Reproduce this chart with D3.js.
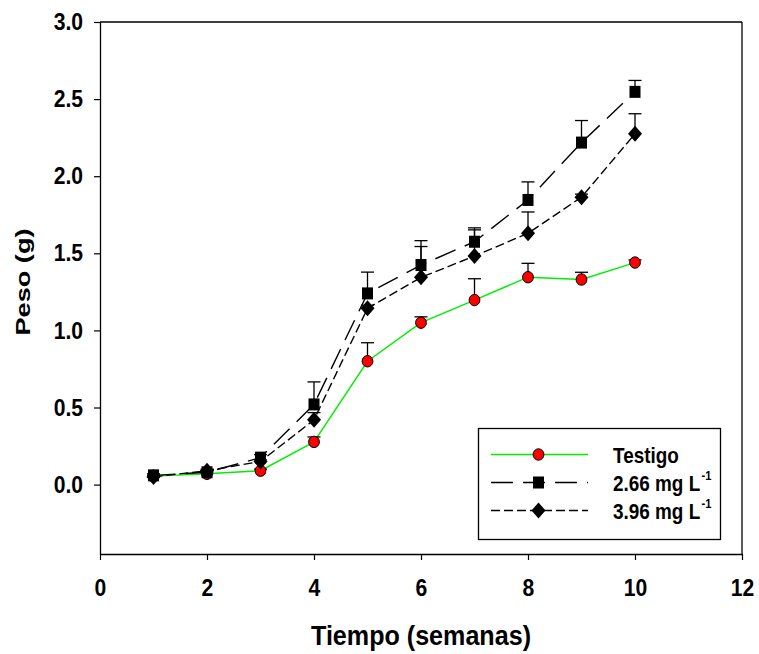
<!DOCTYPE html>
<html>
<head>
<meta charset="utf-8">
<script src="https://cdn.jsdelivr.net/npm/d3@7"></script>
<style>
  body { margin: 0; background: #fff; }
  text { font-family: "Liberation Sans", Arial, sans-serif; font-weight: bold; fill: #000; }
</style>
</head>
<body>
<div id="chart"></div>
<script>
// data (weeks 1..10)
var weeks = [1, 2, 3, 4, 5, 6, 7, 8, 9, 10];
var testigo    = [0.055, 0.07, 0.09, 0.277, 0.80, 1.05, 1.197, 1.345, 1.33, 1.44];
var testigoErr = [0.005, 0.005, 0.01, 0.032, 0.12, 0.038, 0.138, 0.09, 0.047, 0.017];
var dose266    = [0.06, 0.08, 0.175, 0.52, 1.24, 1.424, 1.575, 1.846, 2.218, 2.547];
var dose266Err = [0.01, 0.01, 0.02, 0.146, 0.138, 0.158, 0.09, 0.117, 0.143, 0.074];
var dose396    = [0.05, 0.09, 0.15, 0.42, 1.143, 1.344, 1.482, 1.63, 1.864, 2.275];
var dose396Err = [0.01, 0.01, 0.01, 0.047, 0.02, 0.2, 0.17, 0.138, 0.02, 0.13];

var xTicks = [0, 2, 4, 6, 8, 10, 12];
var yTicks = [0, 0.5, 1.0, 1.5, 2.0, 2.5, 3.0];
var legendLabels = ["Testigo", "2.66 mg L", "3.96 mg L"];

var W = 759, H = 654;
var margin = {top: 22, right: 17, bottom: 100, left: 100},
    width = W - margin.left - margin.right,
    height = H - margin.top - margin.bottom;

var svg = d3.select("#chart")
  .append("svg")
    .attr("width", W)
    .attr("height", H);

var g = svg.append("g")
    .attr("transform", "translate(" + margin.left + "," + margin.top + ")");

var x = d3.scaleLinear().domain([0, 12]).range([0, width]);
var y = d3.scaleLinear().domain([-0.45, 3.0]).range([height, 0]);

// squeeze text horizontally like the original
function squeeze(sel, f) {
  sel.each(function() {
    var len = this.getComputedTextLength();
    d3.select(this).attr("textLength", len * f).attr("lengthAdjust", "spacingAndGlyphs");
  });
}

// axes
var xAxis = g.append("g")
  .attr("transform", "translate(0," + height + ")")
  .call(d3.axisBottom(x).tickValues(xTicks).tickSize(6).tickSizeOuter(0).tickPadding(19).tickFormat(d3.format("d")));
var yAxis = g.append("g")
  .call(d3.axisLeft(y).tickValues(yTicks).tickSize(6).tickSizeOuter(0).tickPadding(11).tickFormat(d3.format(".1f")));

[xAxis, yAxis].forEach(function(a) {
  a.attr("font-size", null).attr("font-family", null);
  a.select(".domain").attr("stroke", "#000").attr("stroke-width", 1.3);
  a.selectAll(".tick line").attr("stroke", "#000").attr("stroke-width", 1.2);
  a.selectAll(".tick text")
    .style("font-size", "24px")
    .attr("fill", "#000");
  squeeze(a.selectAll(".tick text"), 0.88);
});

// frame top + right
g.append("line").attr("x1", 0).attr("x2", width).attr("y1", 0).attr("y2", 0)
  .attr("stroke", "#000").attr("stroke-width", 1.3);
g.append("line").attr("x1", width).attr("x2", width).attr("y1", 0).attr("y2", height)
  .attr("stroke", "#000").attr("stroke-width", 1.3);

// series
var series = [
  {vals: testigo, err: testigoErr, color: "#00ee00", dash: null, shape: "circle"},
  {vals: dose266, err: dose266Err, color: "#000", dash: "22,10", shape: "square"},
  {vals: dose396, err: dose396Err, color: "#000", dash: "9,4", shape: "diamond"}
];

function marker(sel, shape) {
  if (shape == "circle") {
    sel.append("ellipse").attr("rx", 5.4).attr("ry", 5.7)
      .attr("fill", "#ff0000").attr("stroke", "#000").attr("stroke-width", 1);
  } else if (shape == "square") {
    sel.append("rect").attr("x", -5.5).attr("y", -6).attr("width", 11).attr("height", 12)
      .attr("fill", "#000");
  } else {
    sel.append("path").attr("d", "M0,-8L7,0L0,8L-7,0Z").attr("fill", "#000");
  }
}

var line = d3.line()
  .x(function(d) { return x(d[0]) })
  .y(function(d) { return y(d[1]) });

series.forEach(function(s) {
  var pts = weeks.map(function(w, i) { return [w, s.vals[i], s.err[i]]; });

  g.append("path")
    .datum(pts)
    .attr("fill", "none")
    .attr("stroke", s.color)
    .attr("stroke-width", 1.4)
    .attr("stroke-dasharray", s.dash)
    .attr("d", line);

  // upper error bars
  var eb = g.append("g").attr("stroke", "#000").attr("stroke-width", 1.3);
  pts.forEach(function(p) {
    var x0 = x(p[0]), yv = y(p[1]), yt = y(p[1] + p[2]);
    eb.append("line").attr("x1", x0).attr("x2", x0).attr("y1", yv).attr("y2", yt);
    eb.append("line").attr("x1", x0 - 6.5).attr("x2", x0 + 6.5).attr("y1", yt).attr("y2", yt);
  });
});

// markers on top
series.forEach(function(s) {
  weeks.forEach(function(w, i) {
    var m = g.append("g").attr("transform", "translate(" + x(w) + "," + y(s.vals[i]) + ")");
    marker(m, s.shape);
  });
});

// legend
var lg = svg.append("g");
lg.append("rect")
  .attr("x", 478.5).attr("y", 428.5).attr("width", 242).attr("height", 111)
  .attr("fill", "#fff").attr("stroke", "#000").attr("stroke-width", 1.3);

var rowY = [454.5, 482.5, 510.5];
series.forEach(function(s, i) {
  lg.append("line")
    .attr("x1", 491).attr("x2", 588).attr("y1", rowY[i]).attr("y2", rowY[i])
    .attr("stroke", s.color).attr("stroke-width", 1.4)
    .attr("stroke-dasharray", s.dash);
  var m = lg.append("g").attr("transform", "translate(538.5," + rowY[i] + ")");
  marker(m, s.shape);

  // scaled group instead of textLength so the boxes stay honest
  var tg = lg.append("g")
    .attr("transform", "translate(613," + (rowY[i] + 8) + ") scale(0.86,1)");
  var t = tg.append("text")
    .attr("x", 0).attr("y", 0)
    .style("font-size", "22px")
    .text(legendLabels[i]);
  if (i > 0) {
    var end = t.node().getComputedTextLength();
    tg.append("text")
      .attr("x", end + 1.5).attr("y", -11)
      .style("font-size", "13px")
      .text("-1");
  }
});

// axis titles
svg.append("text")
  .attr("x", margin.left + width / 2).attr("y", 645)
  .attr("text-anchor", "middle")
  .style("font-size", "28px")
  .attr("textLength", 220).attr("lengthAdjust", "spacingAndGlyphs")
  .text("Tiempo (semanas)");

svg.append("text")
  .attr("transform", "translate(30,282) rotate(-90)")
  .attr("text-anchor", "middle")
  .style("font-size", "21px")
  .attr("textLength", 107).attr("lengthAdjust", "spacingAndGlyphs")
  .text("Peso (g)");
</script>
</body>
</html>
